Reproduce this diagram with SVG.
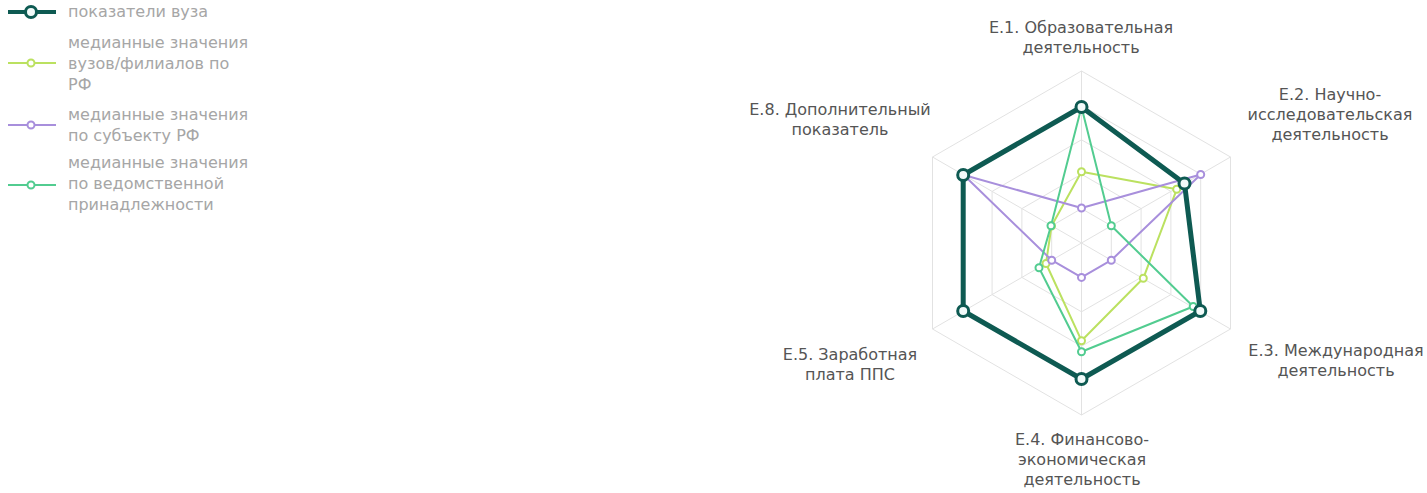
<svg xmlns="http://www.w3.org/2000/svg" width="1427" height="493" viewBox="0 0 1427 493">
<style>
.bg{fill:#ffffff}
.grid{fill:none;stroke:#e2e2e2;stroke-width:1}
.lbl{font-family:"DejaVu Sans",Verdana,sans-serif;font-size:16px;fill:#555555;text-anchor:middle}
.leg{font-family:"DejaVu Sans",Verdana,sans-serif;font-size:16px;fill:#a6a6a6}
.main{fill:none;stroke:#0e5a52;stroke-width:5;stroke-linejoin:round}
.mainpt{fill:#f2fbfa;stroke:#0e5a52;stroke-width:3}
.s{fill:none;stroke-width:2;stroke-linejoin:round}
.pt{fill:#ffffff;stroke-width:2}
.lg{stroke:#bbe160}
.pu{stroke:#a88fdc}
.mg{stroke:#52cc90}
</style>
<rect class="bg" x="0" y="0" width="1427" height="493"/>
<g id="legend">
  <g id="legend-main">
    <line x1="8" y1="12" x2="56" y2="12" stroke="#0e5a52" stroke-width="4"/>
    <circle class="mainpt" cx="31" cy="12" r="5.5"/>
    <text class="leg" x="68" y="17">показатели вуза</text>
  </g>
  <g id="legend-rf">
    <line class="lg" x1="8" y1="63" x2="56" y2="63" stroke-width="2"/>
    <circle class="pt lg" cx="31" cy="63" r="3.5"/>
    <text class="leg" x="68" y="48">медианные значения</text>
    <text class="leg" x="68" y="69">вузов/филиалов по</text>
    <text class="leg" x="68" y="90">РФ</text>
  </g>
  <g id="legend-subj">
    <line class="pu" x1="8" y1="125" x2="56" y2="125" stroke-width="2"/>
    <circle class="pt pu" cx="31" cy="125" r="3.5"/>
    <text class="leg" x="68" y="120">медианные значения</text>
    <text class="leg" x="68" y="141">по субъекту РФ</text>
  </g>
  <g id="legend-ved">
    <line class="mg" x1="8" y1="185" x2="56" y2="185" stroke-width="2"/>
    <circle class="pt mg" cx="31" cy="185" r="3.5"/>
    <text class="leg" x="68" y="168">медианные значения</text>
    <text class="leg" x="68" y="189">по ведомственной</text>
    <text class="leg" x="68" y="210">принадлежности</text>
  </g>
</g>
<g id="grid">
  <polygon class="grid" points="1081.5,71 1230.5,157 1230.5,329 1081.5,415 932.5,329 932.5,157"/>
  <polygon class="grid" points="1081.5,105.4 1200.7,174.2 1200.7,311.8 1081.5,380.6 962.3,311.8 962.3,174.2"/>
  <polygon class="grid" points="1081.5,139.8 1170.9,191.4 1170.9,294.6 1081.5,346.2 992.1,294.6 992.1,191.4"/>
  <polygon class="grid" points="1081.5,174.2 1141.1,208.6 1141.1,277.4 1081.5,311.8 1021.9,277.4 1021.9,208.6"/>
  <polygon class="grid" points="1081.5,208.6 1111.3,225.8 1111.3,260.2 1081.5,277.4 1051.7,260.2 1051.7,225.8"/>
  <line class="grid" x1="1081.5" y1="243" x2="1081.5" y2="71"/>
  <line class="grid" x1="1081.5" y1="243" x2="1230.5" y2="157"/>
  <line class="grid" x1="1081.5" y1="243" x2="1230.5" y2="329"/>
  <line class="grid" x1="1081.5" y1="243" x2="1081.5" y2="415"/>
  <line class="grid" x1="1081.5" y1="243" x2="932.5" y2="329"/>
  <line class="grid" x1="1081.5" y1="243" x2="932.5" y2="157"/>
</g>
<g id="axis-labels">
  <g id="label-e1">
    <text class="lbl" x="1081" y="33">Е.1. Образовательная</text>
    <text class="lbl" x="1081" y="53">деятельность</text>
  </g>
  <g id="label-e2">
    <text class="lbl" x="1330" y="100">Е.2. Научно-</text>
    <text class="lbl" x="1330" y="120">исследовательская</text>
    <text class="lbl" x="1330" y="140">деятельность</text>
  </g>
  <g id="label-e3">
    <text class="lbl" x="1336" y="356">Е.3. Международная</text>
    <text class="lbl" x="1336" y="376">деятельность</text>
  </g>
  <g id="label-e4">
    <text class="lbl" x="1082" y="445">Е.4. Финансово-</text>
    <text class="lbl" x="1082" y="465">экономическая</text>
    <text class="lbl" x="1082" y="485">деятельность</text>
  </g>
  <g id="label-e5">
    <text class="lbl" x="850" y="360">Е.5. Заработная</text>
    <text class="lbl" x="850" y="380">плата ППС</text>
  </g>
  <g id="label-e8">
    <text class="lbl" x="840" y="115">Е.8. Дополнительный</text>
    <text class="lbl" x="840" y="135">показатель</text>
  </g>
</g>
<g id="connectors">
  <g id="series-rf">
    <polygon class="s lg" points="1081.5,171.7 1176.7,189.3 1143.3,278.3 1081.5,340.7 1046,263.5 1051.5,226"/>
    <circle class="pt lg" cx="1081.5" cy="171.7" r="3.5"/>
    <circle class="pt lg" cx="1176.7" cy="189.3" r="3.5"/>
    <circle class="pt lg" cx="1143.3" cy="278.3" r="3.5"/>
    <circle class="pt lg" cx="1081.5" cy="340.7" r="3.5"/>
    <circle class="pt lg" cx="1046" cy="263.5" r="3.5"/>
    <circle class="pt lg" cx="1051.5" cy="226" r="3.5"/>
  </g>
  <g id="series-subj">
    <polygon class="s pu" points="1081.5,208 1200.7,174.5 1111.3,260.2 1081.5,277.4 1051.7,260.2 963.7,175"/>
    <circle class="pt pu" cx="1081.5" cy="208" r="3.5"/>
    <circle class="pt pu" cx="1200.7" cy="174.5" r="3.5"/>
    <circle class="pt pu" cx="1111.3" cy="260.2" r="3.5"/>
    <circle class="pt pu" cx="1081.5" cy="277.4" r="3.5"/>
    <circle class="pt pu" cx="1051.7" cy="260.2" r="3.5"/>
  </g>
  <g id="series-ved">
    <polygon class="s mg" points="1081.5,107 1111.3,225.8 1193.2,306.5 1081.5,351.7 1039,267.7 1051,225.7"/>
    <circle class="pt mg" cx="1111.3" cy="225.8" r="3.5"/>
    <circle class="pt mg" cx="1193.2" cy="306.5" r="3.5"/>
    <circle class="pt mg" cx="1081.5" cy="351.7" r="3.5"/>
    <circle class="pt mg" cx="1039" cy="267.7" r="3.5"/>
    <circle class="pt mg" cx="1051" cy="225.7" r="3.5"/>
  </g>
  <g id="series-main">
    <polygon class="main" points="1081.5,107 1184.5,183.5 1200.3,311 1081.5,379 963.2,311 963.2,175"/>
    <circle class="mainpt" cx="1081.5" cy="107" r="5.5"/>
    <circle class="mainpt" cx="1184.5" cy="183.5" r="5.5"/>
    <circle class="mainpt" cx="1200.3" cy="311" r="5.5"/>
    <circle class="mainpt" cx="1081.5" cy="379" r="5.5"/>
    <circle class="mainpt" cx="963.2" cy="311" r="5.5"/>
    <circle class="mainpt" cx="963.2" cy="175" r="5.5"/>
  </g>
</g>
</svg>
